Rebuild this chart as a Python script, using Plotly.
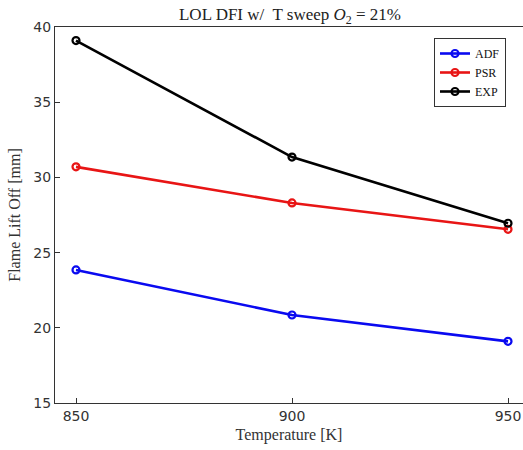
import plotly.graph_objects as go

temps = [850, 900, 950]
adf = [23.85, 20.85, 19.1]
psr = [30.7, 28.3, 26.55]
exp = [39.1, 31.35, 26.95]
x_ticks = [850, 900, 950]
y_ticks = [15, 20, 25, 30, 35, 40]

serif = "Liberation Serif, DejaVu Serif, serif"
sans = "DejaVu Sans, sans-serif"

fig = go.Figure()
series = [("ADF", adf, "#0a0af0"), ("PSR", psr, "#e81515"), ("EXP", exp, "#000000")]
for name, vals, col in series:
    fig.add_trace(go.Scatter(
        x=temps, y=vals, name=name, mode="lines+markers",
        line=dict(color=col, width=2.6),
        marker=dict(symbol="circle-open", size=7, color=col, line=dict(color=col, width=2.2)),
    ))

fig.update_layout(
    width=523, height=450,
    margin=dict(l=55, r=0, t=27, b=47),
    paper_bgcolor="white", plot_bgcolor="white",
    title=dict(text="LOL DFI w/  T sweep <i>O</i><sub>2</sub> = 21%", x=290 / 523, xanchor="center",
               y=1 - 14 / 450, yanchor="middle", yref="container",
               font=dict(family=serif, size=17, color="#222")),
    showlegend=True,
    legend=dict(x=(434 - 55) / 468, y=(403 - 38) / 376, xanchor="left", yanchor="top",
                bgcolor="white", bordercolor="#333", borderwidth=1,
                font=dict(family=serif, size=12, color="#111"),
                tracegroupgap=0, itemwidth=30),
)
fig.update_xaxes(
    range=[845.14, 953.47], tickvals=x_ticks, ticktext=[str(v) for v in x_ticks],
    showgrid=False, zeroline=False, showline=True, linecolor="#333", linewidth=1, mirror=True,
    ticks="inside", ticklen=5, tickcolor="#333",
    tickfont=dict(family=sans, size=14, color="#333"),
    title=dict(text="Temperature [K]", font=dict(family=serif, size=16, color="#333"), standoff=6),
)
fig.update_yaxes(
    range=[15, 40], tickvals=y_ticks, ticktext=[str(v) for v in y_ticks],
    showgrid=False, zeroline=False, showline=True, linecolor="#333", linewidth=1,
    ticks="inside", ticklen=5, tickcolor="#333",
    tickfont=dict(family=sans, size=14, color="#333"),
    title=dict(text="Flame Lift Off [mm]", font=dict(family=serif, size=16, color="#333"), standoff=8),
)

fig.write_html("out.html")
